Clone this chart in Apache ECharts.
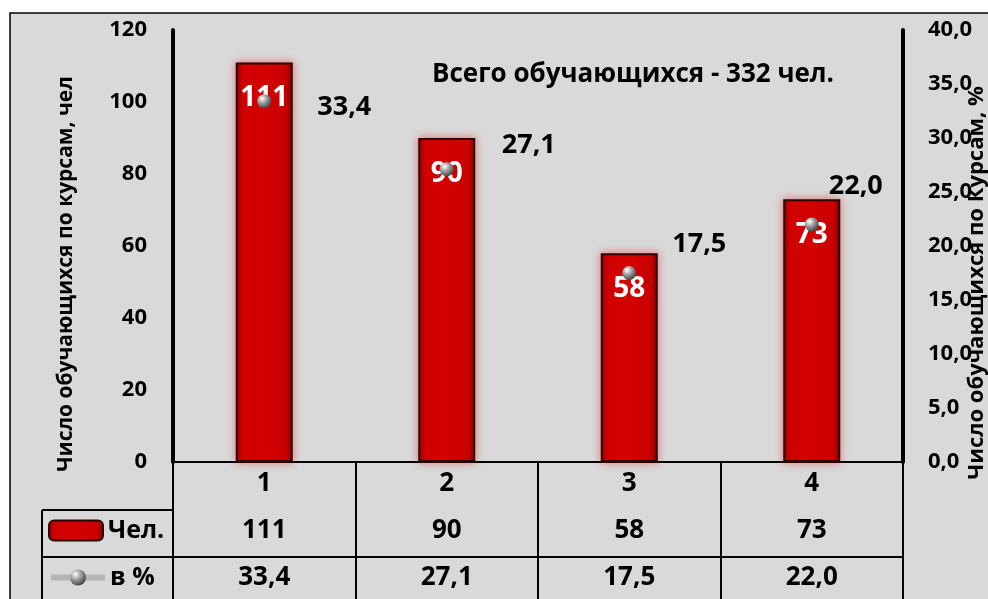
<!DOCTYPE html>
<html>
<head>
<meta charset="utf-8">
<script src="https://cdn.jsdelivr.net/npm/echarts@6/dist/echarts.min.js"></script>
<style>
  html, body { margin: 0; padding: 0; background: #fff; }
  #chart { width: 988px; height: 599px; }
</style>
</head>
<body>
<div id="chart"></div>
<script>
    'use strict'

    // data
    var courses = ['1', '2', '3', '4'];
    var students = [111, 90, 58, 73];
    var percents = [33.4, 27.1, 17.5, 22.0];

    var fontName = 'Open Sans';
    function comma(v) {
        return v.toFixed(1).replace('.', ',');
    }

    // label offsets for the percent values (as on the original)
    var pctOffsets = [[41, 6], [43, -24], [31, -29], [5, -38]];

    var dom = document.getElementById('chart');
    var chart = echarts.init(dom);

    var barStyle = {
        color: new echarts.graphic.LinearGradient(0, 0, 1, 0, [
            { offset: 0, color: '#8a0000' },
            { offset: 0.12, color: '#d00000' },
            { offset: 0.5, color: '#d40000' },
            { offset: 0.88, color: '#c80000' },
            { offset: 1, color: '#7a0000' }
        ]),
        borderColor: '#2a0505',
        borderWidth: 2,
        shadowBlur: 8,
        shadowColor: 'rgba(230,0,0,0.45)'
    };

    var sphere = new echarts.graphic.RadialGradient(0.35, 0.3, 0.7, [
        { offset: 0, color: '#ffffff' },
        { offset: 0.5, color: '#9a9a9a' },
        { offset: 1, color: '#4a4a4a' }
    ]);

    var pctData = percents.map(function (v, i) {
        return {
            value: v,
            label: { offset: pctOffsets[i] }
        };
    });

    var txt = { fontFamily: fontName, fontWeight: 'bold', color: '#000' };

    var legendBase = {
        orient: 'vertical',
        left: 48,
        padding: 0,
        itemWidth: 54,
        itemHeight: 20,
        textStyle: Object.assign({ fontSize: 25 }, txt)
    };

    var option = {
        backgroundColor: '#ffffff',
        animation: false,
        title: {
            text: 'Всего обучающихся - 332 чел.',
            left: 628,
            top: 57,
            textAlign: 'center',
            textStyle: Object.assign({ fontSize: 26 }, txt)
        },
        legend: [
            Object.assign({ top: 518, data: [{ name: 'Чел.' }] }, legendBase),
            Object.assign({ top: 565, data: [{ name: 'в %', lineStyle: { opacity: 1, color: '#b5b5b5', width: 6 } }] }, legendBase)
        ],
        graphic: [
            {
                type: 'rect', z: -10, silent: true,
                shape: { x: 10, y: 13, width: 1000, height: 620 },
                style: { fill: '#d9d9d9', stroke: '#000', lineWidth: 1.5 }
            },
            { type: 'line', shape: { x1: 42, y1: 510, x2: 173, y2: 510 }, style: { stroke: '#000', lineWidth: 2 } },
            { type: 'line', shape: { x1: 42, y1: 557, x2: 173, y2: 557 }, style: { stroke: '#000', lineWidth: 2 } },
            { type: 'line', shape: { x1: 42, y1: 510, x2: 42, y2: 605 }, style: { stroke: '#000', lineWidth: 2 } }
        ],
        grid: { left: 173, right: 85, top: 30, bottom: 137, containLabel: false, outerBoundsMode: 'none' },
        xAxis: [
            {
                type: 'category',
                data: courses,
                axisLine: { lineStyle: { color: '#000', width: 2 } },
                axisTick: { show: true, length: 145, lineStyle: { color: '#000', width: 2 } },
                axisLabel: Object.assign({ margin: 9, fontSize: 26 }, txt)
            },
            {
                type: 'category',
                position: 'bottom',
                offset: 48,
                data: students.map(String),
                axisLine: { lineStyle: { color: '#000', width: 2 } },
                axisTick: { show: false },
                axisLabel: Object.assign({ margin: 8, fontSize: 26 }, txt)
            },
            {
                type: 'category',
                position: 'bottom',
                offset: 95,
                data: percents.map(comma),
                axisLine: { lineStyle: { color: '#000', width: 2 } },
                axisTick: { show: false },
                axisLabel: Object.assign({ margin: 8, fontSize: 26 }, txt)
            }
        ],
        yAxis: [
            {
                type: 'value',
                min: 0,
                max: 120,
                interval: 20,
                name: 'Число обучающихся по курсам, чел',
                nameLocation: 'middle',
                nameRotate: 90,
                nameGap: 96,
                nameMoveOverlap: false,
                nameTextStyle: Object.assign({ fontSize: 21, padding: [0, 56, 0, 0] }, txt),
                axisLine: { show: true, lineStyle: { color: '#000', width: 4 } },
                axisTick: { show: false },
                splitLine: { show: false },
                axisLabel: Object.assign({ margin: 26, fontSize: 22 }, txt)
            },
            {
                type: 'value',
                min: 0,
                max: 40,
                interval: 5,
                name: 'Число обучающихся по Курсам, %',
                nameLocation: 'middle',
                nameRotate: 90,
                nameGap: 63,
                nameMoveOverlap: false,
                nameTextStyle: Object.assign({ fontSize: 22, padding: [0, 74, 0, 0] }, txt),
                axisLine: { show: true, lineStyle: { color: '#000', width: 4 } },
                axisTick: { show: false },
                splitLine: { show: false },
                axisLabel: Object.assign({
                    margin: 25, fontSize: 22,
                    formatter: function (v) { return comma(v); }
                }, txt)
            }
        ],
        series: [
            {
                name: 'Чел.',
                type: 'bar',
                barWidth: 57,
                data: students,
                itemStyle: barStyle,
                label: Object.assign({
                    show: true,
                    position: 'insideTop',
                    distance: 22,
                    fontSize: 28
                }, txt, { color: '#fff' }),
                z: 2
            },
            {
                name: 'в %',
                type: 'line',
                yAxisIndex: 1,
                data: pctData,
                symbol: 'circle',
                symbolSize: 14,
                itemStyle: { color: sphere },
                lineStyle: { opacity: 0 },
                label: Object.assign({
                    show: true,
                    position: 'right',
                    fontSize: 27,
                    formatter: function (p) { return comma(p.value); }
                }, txt),
                z: 3
            }
        ]
    };

    if (option && typeof option === 'object') {
        chart.setOption(option);
    }
</script>
</body>
</html>
